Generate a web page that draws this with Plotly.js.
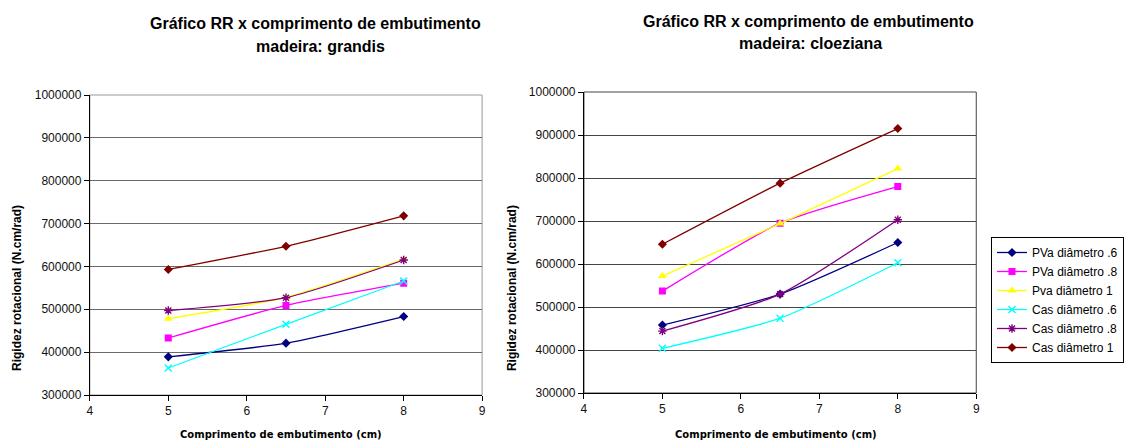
<!DOCTYPE html>
<html>
<head>
<meta charset="utf-8">
<script src="https://cdn.plot.ly/plotly-3.0.1.min.js"></script>
<style>html,body{margin:0;padding:0;background:#fff;}#chart{width:1124px;height:441px;}</style>
</head>
<body>
<div id="chart"></div>
<script>
// ---- data ----
const xValues = [5, 6.5, 8];
const seriesNames = ["PVa diâmetro .6", "PVa diâmetro .8", "Pva diâmetro 1", "Cas diâmetro .6", "Cas diâmetro .8", "Cas diâmetro 1"];
const grandis_PVa06 = [389000, 421000, 483000];
const grandis_PVa08 = [433000, 509000, 561000];
const grandis_Pva1  = [478000, 528000, 617000];
const grandis_Cas06 = [363000, 465000, 566000];
const grandis_Cas08 = [497000, 527000, 615000];
const grandis_Cas1  = [593000, 647000, 718000];
const cloeziana_PVa06 = [458000, 530000, 650000];
const cloeziana_PVa08 = [537000, 695000, 780000];
const cloeziana_Pva1  = [572000, 694000, 822000];
const cloeziana_Cas06 = [404000, 474000, 603000];
const cloeziana_Cas08 = [444000, 530000, 703000];
const cloeziana_Cas1  = [646000, 788000, 915000];
const yTickVals = [300000, 400000, 500000, 600000, 700000, 800000, 900000, 1000000];
const xTickVals = [4, 5, 6, 7, 8, 9];

// ---- styles ----
const styles = [
  {color: "#000080", symbol: "diamond", size: 7},
  {color: "#FF00FF", symbol: "square", size: 7},
  {color: "#FFFF00", symbol: "triangle-up", size: 8},
  {color: "#00FFFF", symbol: "x-thin", size: 7},
  {color: "#800080", symbol: "asterisk", size: 7},
  {color: "#800000", symbol: "diamond", size: 7}
];
const grandis = [grandis_PVa06, grandis_PVa08, grandis_Pva1, grandis_Cas06, grandis_Cas08, grandis_Cas1];
const cloeziana = [cloeziana_PVa06, cloeziana_PVa08, cloeziana_Pva1, cloeziana_Cas06, cloeziana_Cas08, cloeziana_Cas1];

function mk(i, ys, xa, ya, show) {
  const s = styles[i];
  const thin = s.symbol === "x-thin" || s.symbol === "asterisk";
  return {
    x: xValues, y: ys, xaxis: xa, yaxis: ya,
    type: "scatter", mode: "lines+markers",
    name: seriesNames[i], legendgroup: "g" + i, showlegend: show,
    line: {color: s.color, width: 1.3, shape: "spline", smoothing: 0.6},
    marker: {symbol: s.symbol, size: s.size, color: s.color,
             line: {color: s.color, width: thin ? 1.4 : 0}}
  };
}
const traces = [];
for (let i = 0; i < 6; i++) traces.push(mk(i, grandis[i], "x", "y", false));
for (let i = 0; i < 6; i++) traces.push(mk(i, cloeziana[i], "x2", "y2", true));

const W = 1124, H = 441;
const px = v => v / W, py = v => 1 - v / H;
const tickFont = {family: "Liberation Sans, Arial, sans-serif", size: 12, color: "#111"};
function xax(d, anchor) {
  return {domain: d, anchor: anchor, range: [4, 9], tickvals: xTickVals, showgrid: false, zeroline: false,
          showline: true, linecolor: "#000", linewidth: 1, ticks: "outside", ticklen: 5, tickcolor: "#000",
          tickfont: tickFont, fixedrange: true};
}
function yax(d, anchor, gc) {
  return {domain: d, anchor: anchor, range: [300000, 1000000], tickvals: yTickVals, tickformat: "d",
          showgrid: true, gridcolor: gc, gridwidth: 1, zeroline: false,
          showline: true, linecolor: "#000", linewidth: 1, ticks: "outside", ticklen: 5, tickcolor: "#000",
          tickfont: tickFont, fixedrange: true};
}
const titleFont = {family: "Liberation Sans, Arial, sans-serif", size: 16, color: "#000"};
const axTitleFont = {family: "Liberation Sans, Arial, sans-serif", size: 12, color: "#000"};
const xTitleFont = {family: "DejaVu Sans, Verdana, sans-serif", size: 10, color: "#000"};
function ann(text, x, y, font, extra) {
  return Object.assign({text: text, x: px(x), y: py(y), xref: "paper", yref: "paper",
    showarrow: false, xanchor: "center", yanchor: "middle", font: font}, extra || {});
}

const layout = {
  width: W, height: H,
  margin: {l: 0, r: 0, t: 0, b: 0},
  paper_bgcolor: "#fff", plot_bgcolor: "#fff",
  xaxis: xax([px(90), px(483)], "y"),
  yaxis: yax([1 - 395 / H, 1 - 95 / H], "x", "#6a6a6a"),
  xaxis2: xax([px(585), px(978)], "y2"),
  yaxis2: yax([1 - 393 / H, 1 - 92 / H], "x2", "#444"),
  showlegend: true,
  legend: {x: px(993), y: py(237), xanchor: "left", yanchor: "top",
           bordercolor: "#000", borderwidth: 1, bgcolor: "#fff",
           font: {family: "Liberation Sans, Arial, sans-serif", size: 12, color: "#000"},
           tracegroupgap: 4, traceorder: "normal"},
  shapes: [
    {type: "rect", xref: "x domain", yref: "y domain", x0: 0, x1: 1, y0: 0, y1: 1, line: {color: "#9a9a9a", width: 1}, layer: "below"},
    {type: "rect", xref: "x2 domain", yref: "y2 domain", x0: 0, x1: 1, y0: 0, y1: 1, line: {color: "#444", width: 1}, layer: "below"}
  ],
  annotations: [
    ann("<b>Gráfico RR x comprimento de embutimento</b>", 316, 23, titleFont),
    ann("<b>madeira: grandis</b>", 321, 46, titleFont),
    ann("<b>Gráfico RR x comprimento de embutimento</b>", 810, 21, titleFont),
    ann("<b>madeira: cloeziana</b>", 812, 44, titleFont),
    ann("<b>Comprimento de embutimento (cm)</b>", 282, 434, xTitleFont),
    ann("<b>Comprimento de embutimento (cm)</b>", 777, 434, xTitleFont),
    ann("<b>Rigidez rotacional (N.cm/rad)</b>", 17, 288, axTitleFont, {textangle: -90}),
    ann("<b>Rigidez rotacional (N.cm/rad)</b>", 513, 288, axTitleFont, {textangle: -90})
  ]
};
Plotly.newPlot("chart", traces, layout, {staticPlot: true, displayModeBar: false});
</script>
</body>
</html>
